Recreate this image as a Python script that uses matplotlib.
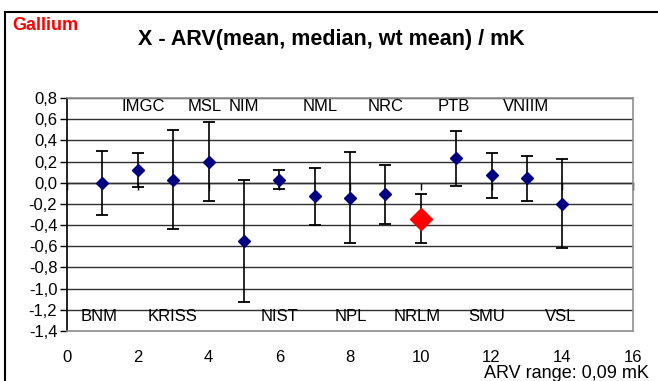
#!/usr/bin/env python3

import matplotlib

matplotlib.use("Agg")

import matplotlib.pyplot as plt
from matplotlib.lines import Line2D


OUTPUT_FILENAME = "out.png"

# Participant index, deviation X - ARV (mK) and half-width of the bar
lab_index = [1, 2, 3, 4, 5, 6, 7, 8, 9, 10, 11, 12, 13, 14]
deviation = [0.00, 0.12, 0.03, 0.20, -0.55, 0.03, -0.13, -0.14,
             -0.11, -0.34, 0.23, 0.07, 0.04, -0.20]
uncertainty = [0.30, 0.16, 0.47, 0.37, 0.58, 0.09, 0.27, 0.43,
               0.28, 0.23, 0.26, 0.21, 0.21, 0.42]
highlight_lab = 10

top_labels = ["IMGC", "MSL", "NIM", "NML", "NRC", "PTB", "VNIIM"]
top_label_x = [2.16, 3.89, 5.0, 7.16, 9.0, 10.94, 12.98]
bottom_labels = ["BNM", "KRISS", "NIST", "NPL", "NRLM", "SMU", "VSL"]
bottom_label_x = [0.92, 2.97, 6.02, 8.03, 9.89, 11.87, 13.96]

x_ticks = [0, 2, 4, 6, 8, 10, 12, 14, 16]
y_ticks = [0.8, 0.6, 0.4, 0.2, 0.0, -0.2, -0.4, -0.6, -0.8, -1.0,
           -1.2, -1.4]


def comma(value: float) -> str:
    """Format with a decimal comma."""
    return f"{value:.1f}".replace(".", ",")


def main() -> int:
    plt.rcParams["font.family"] = ["Liberation Sans", "DejaVu Sans"]

    fig = plt.figure(figsize=(6.58, 3.81), dpi=100)
    ax = fig.add_axes([67 / 658, 50 / 381, 566 / 658, 233 / 381])

    # Outer chart frame (left and top edges only are visible)
    fig.add_artist(Line2D([5 / 658, 5 / 658], [0, 1 - 12 / 381],
                          transform=fig.transFigure, color="black", lw=1.5))
    fig.add_artist(Line2D([5 / 658, 1], [1 - 12 / 381, 1 - 12 / 381],
                          transform=fig.transFigure, color="black", lw=1.5))

    ax.set_xlim(0, 16)
    ax.set_ylim(-1.4, 0.8)

    for y in y_ticks:
        ax.axhline(y, color="#303030", lw=1.0, zorder=1)

    normal_x = [x for x in lab_index if x != highlight_lab]
    normal_y = [deviation[i] for i, x in enumerate(lab_index)
                if x != highlight_lab]
    red_idx = lab_index.index(highlight_lab)

    ax.errorbar(lab_index, deviation, yerr=uncertainty, fmt="none",
                ecolor="black", elinewidth=1.2, capsize=4.3, capthick=1.3,
                zorder=3)
    ax.plot(normal_x, normal_y, "D", color="#000080", ms=6, zorder=4,
            linestyle="none")
    ax.plot([lab_index[red_idx]], [deviation[red_idx]], "D",
            color="#ff0000", ms=11, zorder=4, linestyle="none")

    for name, x in zip(top_labels, top_label_x):
        ax.text(x, 0.72, name, ha="center", va="center", fontsize=12,
                zorder=5)
    for name, x in zip(bottom_labels, bottom_label_x):
        ax.text(x, -1.265, name, ha="center", va="center", fontsize=12,
                zorder=5)

    ax.set_yticks(y_ticks)
    ax.set_yticklabels([comma(v) for v in y_ticks], fontsize=12)
    ax.tick_params(axis="y", length=5, width=1, direction="out", pad=2)

    ax.set_xticks(x_ticks)
    ax.set_xticklabels([str(v) for v in x_ticks], fontsize=12)
    ax.tick_params(axis="x", length=0, pad=14)

    for side in ("top", "right", "bottom"):
        ax.spines[side].set_color("#909090")
        ax.spines[side].set_linewidth(1.2)
    ax.spines["left"].set_color("black")
    ax.spines["left"].set_linewidth(1.2)

    # Category axis crosses at zero with outward tick marks
    zero_axis = ax.secondary_xaxis(0, transform=ax.transData)
    zero_axis.set_xticks(x_ticks)
    zero_axis.tick_params(axis="x", length=5, width=1, direction="out",
                          labelbottom=False)
    zero_axis.spines["bottom"].set_color("black")
    zero_axis.spines["bottom"].set_linewidth(1.0)

    fig.text(12 / 658, 1 - 25 / 381, "Gallium", color="#ff0000",
             fontsize=13, fontweight="bold", ha="left", va="center")
    fig.text(331 / 658, 1 - 40 / 381,
             "X - ARV(mean, median, wt mean) / mK",
             fontsize=15.5, fontweight="bold", ha="center", va="center")
    fig.text(649 / 658, 1 - 378 / 381, "ARV range: 0,09 mK",
             fontsize=13, ha="right", va="baseline")

    fig.savefig(OUTPUT_FILENAME, dpi=100)
    plt.close(fig)
    return 0


if __name__ == "__main__":
    raise SystemExit(main())
